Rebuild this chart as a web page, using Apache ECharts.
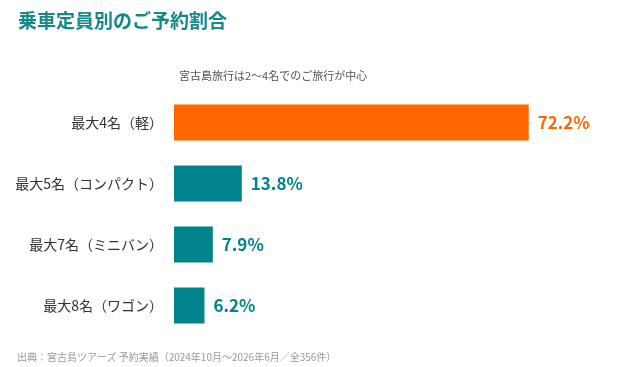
<!DOCTYPE html>
<html>
<head>
<meta charset="utf-8">
<title>乗車定員別のご予約割合</title>
<script src="https://cdn.jsdelivr.net/npm/echarts@6/dist/echarts.min.js"></script>
<style>
  html, body { margin: 0; padding: 0; background: #fff; }
  #main { width: 640px; height: 367px; }
</style>
</head>
<body>
<div id="main"></div>
<script>
// data (top to bottom)
var categories = ['最大4名（軽）', '最大5名（コンパクト）', '最大7名（ミニバン）', '最大8名（ワゴン）'];
var shares = [72.2, 13.8, 7.9, 6.2];
var barColors = ['#FF6600', '#00838A', '#00838A', '#00838A'];

var font = '"Noto Sans CJK JP", "Noto Sans", sans-serif';
var chart = echarts.init(document.getElementById('main'));

var option = {
  backgroundColor: '#ffffff',
  animation: false,
  textStyle: { fontFamily: font },
  title: [
    {
      text: '乗車定員別のご予約割合',
      left: 13, top: 6,
      textStyle: { fontSize: 19, fontWeight: 'bold', color: '#14888A', fontFamily: font }
    },
    {
      text: '宮古島旅行は2〜4名でのご旅行が中心',
      left: 174, top: 65,
      textStyle: { fontSize: 11, fontWeight: 'normal', color: '#555', fontFamily: font }
    },
    {
      text: '出典：宮古島ツアーズ 予約実績（2024年10月〜2026年6月／全356件）',
      left: 12, top: 347,
      textStyle: { fontSize: 10, fontWeight: 'normal', color: '#999', fontFamily: font }
    }
  ],
  grid: { left: 174, right: 73, top: 92, bottom: 31, containLabel: false },
  xAxis: {
    type: 'value', min: 0, max: 80,
    show: false
  },
  yAxis: {
    type: 'category',
    data: categories,
    inverse: true,
    axisLine: { show: false },
    axisTick: { show: false },
    axisLabel: { color: '#333', fontSize: 14, margin: 11, fontFamily: font }
  },
  series: [{
    type: 'bar',
    data: shares.map(function (v, i) {
      return {
        value: v,
        itemStyle: { color: barColors[i] },
        label: { color: barColors[i] }
      };
    }),
    barWidth: 36,
    label: {
      show: true,
      position: 'right',
      distance: 9,
      fontSize: 17,
      fontWeight: 'bold',
      fontFamily: font,
      formatter: function (p) { return p.value.toFixed(1) + '%'; }
    }
  }]
};
chart.setOption(option);
</script>
</body>
</html>
